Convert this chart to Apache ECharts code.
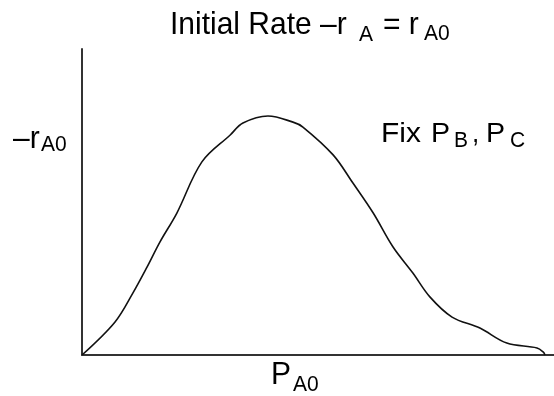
<!DOCTYPE html>
<html>
<head>
<meta charset="utf-8">
<script src="https://cdn.jsdelivr.net/npm/echarts@6/dist/echarts.min.js"></script>
<style>
  html, body { margin: 0; padding: 0; background: #fff; }
  #chart { width: 554px; height: 396px; }
</style>
</head>
<body>
<div id="chart"></div>
<script>
// Initial rate -rA0 versus inlet partial pressure PA0 (PB, PC held fixed), arbitrary units
const pressureA0 = [0, 0.70, 1.08, 1.38, 1.65, 2.01, 2.54, 3.14, 3.41, 3.94, 4.47, 4.68,
                    5.32, 5.74, 6.17, 6.59, 7.01, 7.37, 7.84, 8.43, 9.00, 9.64, 9.77, 9.81];
const initialRate = [0, 1.08, 2.03, 2.88, 3.69, 4.64, 6.31, 7.19, 7.58, 7.81, 7.61, 7.45,
                     6.54, 5.62, 4.64, 3.53, 2.68, 1.90, 1.24, 0.88, 0.39, 0.23, 0.10, 0];
const axisMax = 10;

const FONT = '"Liberation Sans", Arial, sans-serif';
const MAIN = 30, SUB = 21;

// text piece, vertically centred on y, slightly stretched upward like the slide lettering
function txt(text, x, y, size, sx) {
  return {
    type: 'text', x: x, y: y, scaleX: sx || 1, scaleY: 1.06,
    style: { text: text, font: size + 'px ' + FONT, fill: '#000', verticalAlign: 'middle' }
  };
}

const chart = echarts.init(document.getElementById('chart'), null, { renderer: 'canvas' });
chart.setOption({
  animation: false,
  backgroundColor: '#fff',
  grid: { left: 82, right: 0, top: 49, bottom: 41 },
  xAxis: {
    type: 'value', min: 0, max: axisMax,
    axisLine: { show: true, lineStyle: { color: '#333', width: 2 } },
    axisTick: { show: false }, axisLabel: { show: false }, splitLine: { show: false }
  },
  yAxis: {
    type: 'value', min: 0, max: axisMax,
    axisLine: { show: true, lineStyle: { color: '#333', width: 2 } },
    axisTick: { show: false }, axisLabel: { show: false }, splitLine: { show: false }
  },
  series: [{
    type: 'line',
    data: pressureA0.map((p, i) => [p, initialRate[i]]),
    smooth: 0.35,
    showSymbol: false,
    lineStyle: { color: '#111', width: 1.6 }
  }],
  graphic: [
    // title: Initial Rate –r A = rA0
    txt('Initial Rate \u2013r', 170, 25.5, MAIN),
    txt('A', 359, 34.5, SUB),
    txt('= r', 383, 25.5, MAIN),
    txt('A0', 424, 33.5, SUB),
    // y axis label: –rA0
    txt('\u2013r', 13, 139, MAIN),
    txt('A0', 41, 145, SUB),
    // x axis label: PA0
    txt('P', 271, 375.5, MAIN),
    txt('A0', 293, 385, SUB),
    // annotation: Fix PB, PC
    txt('Fix', 381, 134.5, 26, 1.15),
    txt('P', 431, 134.5, 26, 1.1),
    txt('B', 454, 141, SUB),
    txt(',', 472, 134.5, 26),
    txt('P', 486, 134.5, 26, 1.1),
    txt('C', 510, 141, SUB)
  ]
});
</script>
</body>
</html>
